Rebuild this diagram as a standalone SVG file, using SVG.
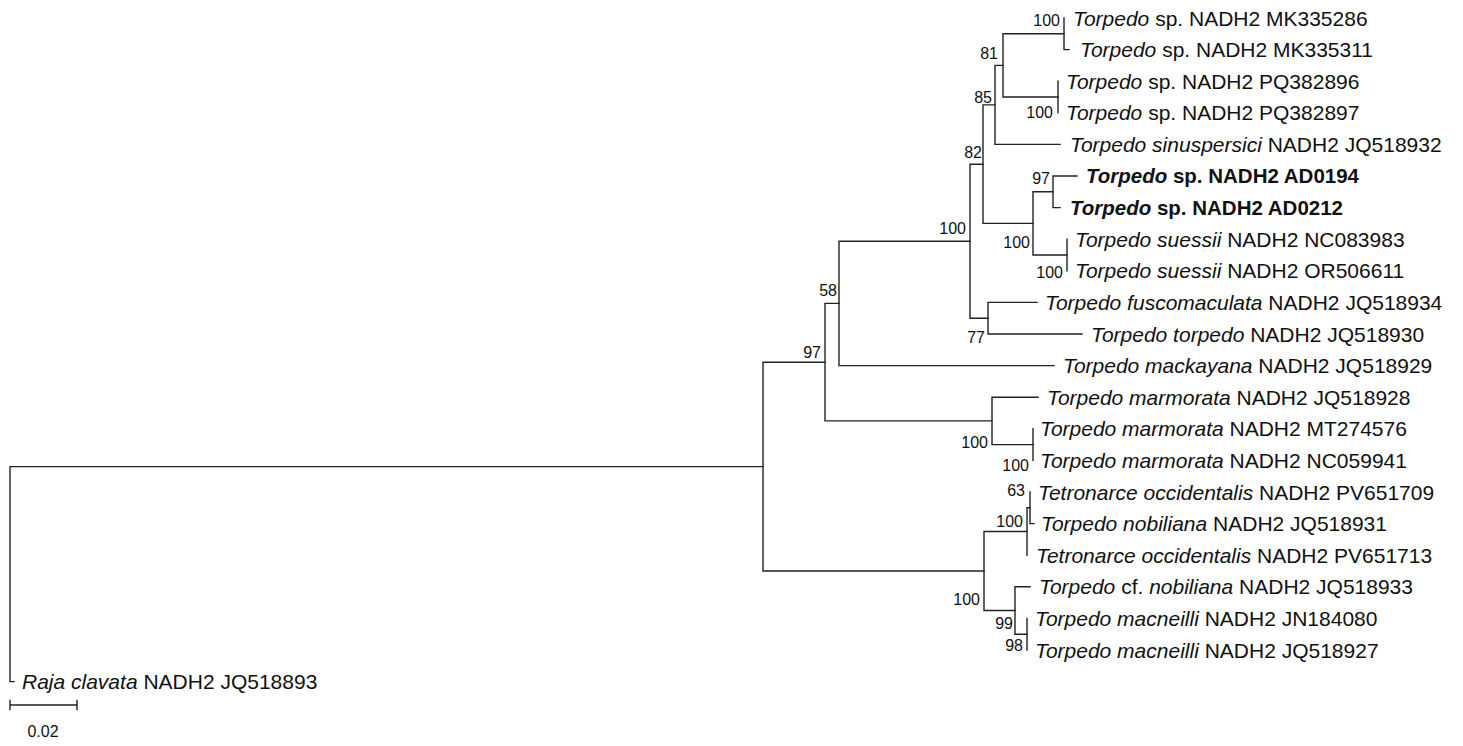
<svg xmlns="http://www.w3.org/2000/svg" width="1463" height="746" viewBox="0 0 1463 746">
<style>
.br{fill:none;stroke:#222;stroke-width:1.4;stroke-linecap:square}
.lf{font-family:"Liberation Sans",Arial,sans-serif;font-size:21px;fill:#111}
.bd{font-weight:bold;font-size:20.5px}
.it{font-style:italic}
.bs{font-family:"Liberation Sans",Arial,sans-serif;font-size:16px;fill:#111;text-anchor:end}
</style>
<rect width="1463" height="746" fill="#fff"/>
<g id="connectors">
<path class="br" d="M10,466.6V681.6H14M10,466.6H763"/>
<path class="br" d="M763,362.2V571M763,362.2H825M763,571H984"/>
<path class="br" d="M825,303.4V420.9M825,303.4H839M825,420.9H992"/>
<path class="br" d="M839,241.2V365.6M839,241.2H970M839,365.6H1054"/>
<path class="br" d="M970,164.2V318.2M970,164.2H983M970,318.2H988"/>
<path class="br" d="M983,104.9V223.4M983,104.9H995M983,223.4H1033"/>
<path class="br" d="M995,65.4V144.4M995,65.4H1003M995,144.4H1060"/>
<path class="br" d="M1003,33.8V97M1003,33.8H1064M1003,97H1058"/>
<path class="br" d="M1064,18V49.6H1069"/>
<path class="br" d="M1058,81.2V112.8"/>
<path class="br" d="M1033,191.8V255M1033,191.8H1053M1033,255H1067"/>
<path class="br" d="M1053,176V207.6M1053,176H1077M1053,207.6H1060"/>
<path class="br" d="M1067,239.2V270.8"/>
<path class="br" d="M988,302.4V334M988,302.4H1037M988,334H1082"/>
<path class="br" d="M992,397.2V444.6M992,397.2H1038M992,444.6H1033"/>
<path class="br" d="M1033,428.8V460.4"/>
<path class="br" d="M984,531.5V610.5M984,531.5H1027M984,610.5H1015"/>
<path class="br" d="M1027,507.8V555.2M1027,507.8H1030"/>
<path class="br" d="M1030,492V523.6H1034"/>
<path class="br" d="M1015,586.8V634.2M1015,586.8H1030M1015,634.2H1027"/>
<path class="br" d="M1027,618.4V650"/>
<path class="br" d="M10,705H77M10,700.5V709.5M77,700.5V709.5"/>
</g>
<g id="leaf-MK335286"><text class="lf" x="1073" y="25.5"><tspan class="it">Torpedo</tspan> sp. NADH2 MK335286</text></g>
<g id="leaf-MK335311"><text class="lf" x="1080" y="57.1"><tspan class="it">Torpedo</tspan> sp. NADH2 MK335311</text></g>
<g id="leaf-PQ382896"><text class="lf" x="1066" y="88.7"><tspan class="it">Torpedo</tspan> sp. NADH2 PQ382896</text></g>
<g id="leaf-PQ382897"><text class="lf" x="1066" y="120.3"><tspan class="it">Torpedo</tspan> sp. NADH2 PQ382897</text></g>
<g id="leaf-JQ518932"><text class="lf" x="1070" y="151.9"><tspan class="it">Torpedo sinuspersici</tspan> NADH2 JQ518932</text></g>
<g id="leaf-AD0194"><text class="lf bd" x="1086" y="183.3"><tspan class="it">Torpedo</tspan> sp. NADH2 AD0194</text></g>
<g id="leaf-AD0212"><text class="lf bd" x="1070" y="214.9"><tspan class="it">Torpedo</tspan> sp. NADH2 AD0212</text></g>
<g id="leaf-NC083983"><text class="lf" x="1075" y="246.7"><tspan class="it">Torpedo suessii</tspan> NADH2 NC083983</text></g>
<g id="leaf-OR506611"><text class="lf" x="1075" y="278.3"><tspan class="it">Torpedo suessii</tspan> NADH2 OR506611</text></g>
<g id="leaf-JQ518934"><text class="lf" x="1045" y="309.9"><tspan class="it">Torpedo fuscomaculata</tspan> NADH2 JQ518934</text></g>
<g id="leaf-JQ518930"><text class="lf" x="1091" y="341.5"><tspan class="it">Torpedo torpedo</tspan> NADH2 JQ518930</text></g>
<g id="leaf-JQ518929"><text class="lf" x="1063" y="373.1"><tspan class="it">Torpedo mackayana</tspan> NADH2 JQ518929</text></g>
<g id="leaf-JQ518928"><text class="lf" x="1047" y="404.7"><tspan class="it">Torpedo marmorata</tspan> NADH2 JQ518928</text></g>
<g id="leaf-MT274576"><text class="lf" x="1040" y="436.3"><tspan class="it">Torpedo marmorata</tspan> NADH2 MT274576</text></g>
<g id="leaf-NC059941"><text class="lf" x="1040" y="467.9"><tspan class="it">Torpedo marmorata</tspan> NADH2 NC059941</text></g>
<g id="leaf-PV651709"><text class="lf" x="1038" y="499.5"><tspan class="it">Tetronarce occidentalis</tspan> NADH2 PV651709</text></g>
<g id="leaf-JQ518931"><text class="lf" x="1041" y="531.1"><tspan class="it">Torpedo nobiliana</tspan> NADH2 JQ518931</text></g>
<g id="leaf-PV651713"><text class="lf" x="1036" y="562.7"><tspan class="it">Tetronarce occidentalis</tspan> NADH2 PV651713</text></g>
<g id="leaf-JQ518933"><text class="lf" x="1039" y="594.3"><tspan class="it">Torpedo</tspan> cf. <tspan class="it">nobiliana</tspan> NADH2 JQ518933</text></g>
<g id="leaf-JN184080"><text class="lf" x="1035" y="625.9"><tspan class="it">Torpedo macneilli</tspan> NADH2 JN184080</text></g>
<g id="leaf-JQ518927"><text class="lf" x="1035" y="657.5"><tspan class="it">Torpedo macneilli</tspan> NADH2 JQ518927</text></g>
<g id="leaf-JQ518893"><text class="lf" x="22" y="689.1"><tspan class="it">Raja clavata</tspan> NADH2 JQ518893</text></g>
<g id="bootstrap">
<g id="n-MK"><text class="bs" x="1060" y="26">100</text></g>
<g id="n-81"><text class="bs" x="998" y="59">81</text></g>
<g id="n-85"><text class="bs" x="992" y="103">85</text></g>
<g id="n-PQ"><text class="bs" x="1053" y="118">100</text></g>
<g id="n-82"><text class="bs" x="982" y="158">82</text></g>
<g id="n-AD"><text class="bs" x="1050" y="184">97</text></g>
<g id="n-100big"><text class="bs" x="966" y="234">100</text></g>
<g id="n-100b"><text class="bs" x="1030" y="248">100</text></g>
<g id="n-suessii"><text class="bs" x="1063" y="278">100</text></g>
<g id="n-58"><text class="bs" x="837" y="296">58</text></g>
<g id="n-77"><text class="bs" x="985" y="343">77</text></g>
<g id="n-97"><text class="bs" x="821" y="358">97</text></g>
<g id="n-marm"><text class="bs" x="988" y="448">100</text></g>
<g id="n-MTNC"><text class="bs" x="1029" y="471">100</text></g>
<g id="n-63"><text class="bs" x="1025" y="496">63</text></g>
<g id="n-Tet"><text class="bs" x="1023" y="527">100</text></g>
<g id="n-low100"><text class="bs" x="980" y="605">100</text></g>
<g id="n-99"><text class="bs" x="1013" y="629">99</text></g>
<g id="n-98"><text class="bs" x="1023" y="651">98</text></g>
</g>
<g id="scale"><text class="bs" x="43" y="737" style="text-anchor:middle">0.02</text></g>
</svg>
